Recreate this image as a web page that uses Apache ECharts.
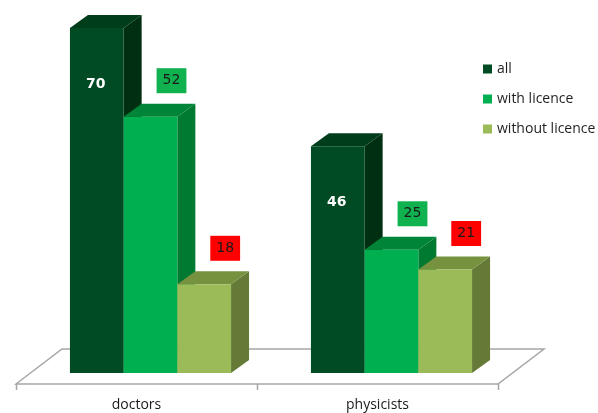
<!DOCTYPE html>
<html>
<head>
<meta charset="utf-8">
<script src="https://cdn.jsdelivr.net/npm/echarts@6/dist/echarts.min.js"></script>
<style>
  html, body { margin: 0; padding: 0; background: #ffffff; }
  #chart { width: 598px; height: 413px; }
</style>
</head>
<body>
<div id="chart"></div>
<script>
// Licensed staff counts per profession
const categories = ['doctors', 'physicists'];
const seriesNames = ['all', 'with licence', 'without licence'];
const allValues = [70, 46];
const withLicence = [52, 25];
const withoutLicence = [18, 21];

// Face colours of each prism: front, side, top; plus the label style
const palette = [
  { front: '#004b23', side: '#003011', top: '#003d1a', label: 'inside' },
  { front: '#00b050', side: '#007a31', top: '#008437', label: 'box', box: '#0fb24f' },
  { front: '#9bbb59', side: '#647a36', top: '#77923e', label: 'box', box: '#ff0000' }
];

const BAR_W = 53.7;      // front face width in px
const GROUP_SHIFT = 14;  // bars sit deeper on the floor than the front edge
const DX = 18, DY = 13;  // prism depth offset
const FLOOR_FRONT = 11, FLOOR_DX = 46, FLOOR_DY = 35, TICK_LEN = 6;

function prismRenderer(si) {
  const pal = palette[si];
  return function (params, api) {
    const cat = api.value(0);
    const val = api.value(1);
    const base = api.coord([cat, 0]);
    const top = api.coord([cat, val]);
    const groupLeft = base[0] + GROUP_SHIFT - BAR_W * 1.5;
    const x0 = groupLeft + si * BAR_W;
    const x1 = x0 + BAR_W;
    const yb = base[1], yt = top[1];
    const children = [
      { type: 'polygon', shape: { points: [[x1, yb], [x1 + DX, yb - DY], [x1 + DX, yt - DY], [x1, yt]] },
        style: { fill: pal.side } },
      { type: 'polygon', shape: { points: [[x0, yt], [x0 + DX, yt - DY], [x1 + DX, yt - DY], [x1, yt]] },
        style: { fill: pal.top } },
      { type: 'rect', shape: { x: x0, y: yt, width: BAR_W, height: yb - yt },
        style: { fill: pal.front } }
    ];
    if (pal.label === 'inside') {
      children.push({ type: 'text', style: {
        text: String(val), x: (x0 + x1) / 2 - 1, y: yt + 56, align: 'center', verticalAlign: 'middle',
        fill: '#ffffff', font: 'bold 14px "DejaVu Sans", sans-serif' } });
    } else {
      children.push({ type: 'text', style: {
        text: String(val), x: (x0 + x1) / 2 + 21, y: yt - 36, align: 'center', verticalAlign: 'middle',
        fill: '#1a1a1a', font: '14px "DejaVu Sans", sans-serif',
        backgroundColor: pal.box, padding: [6, 6, 5, 6] } });
    }
    return { type: 'group', children: children };
  };
}

// Floor plate with the category dividers along its front edge
function floorRenderer(params, api) {
  const cs = params.coordSys;
  const y0 = api.coord([0, 0])[1] + FLOOR_FRONT;
  const xl = cs.x, xr = cs.x + cs.width;
  const band = api.size([1, 0])[0];
  const line = { stroke: '#a6a6a6', lineWidth: 1.5 };
  const children = [{
    type: 'polygon',
    shape: { points: [[xl, y0], [xl + FLOOR_DX, y0 - FLOOR_DY], [xr + FLOOR_DX, y0 - FLOOR_DY], [xr, y0]] },
    style: { fill: '#ffffff', stroke: '#a6a6a6', lineWidth: 1.5 }
  }];
  for (let i = 0; i <= categories.length; i++) {
    const tx = Math.round(xl + i * band) + 0.5;
    children.push({ type: 'line', shape: { x1: tx, y1: y0, x2: tx, y2: y0 + TICK_LEN }, style: line });
  }
  return { type: 'group', children: children };
}

const seriesData = [allValues, withLicence, withoutLicence];

const chart = echarts.init(document.getElementById('chart'), null, { renderer: 'canvas' });
chart.setOption({
  animation: false,
  backgroundColor: '#ffffff',
  grid: { left: 16, right: 100, top: 28, bottom: 40 },
  legend: {
    orient: 'vertical', left: 478, top: 57,
    itemWidth: 9, itemHeight: 9, itemGap: 16, icon: 'rect',
    data: seriesNames,
    textStyle: { color: '#1f1f1f', fontSize: 14, fontFamily: '"Open Sans", sans-serif' }
  },
  xAxis: {
    type: 'category', data: categories, offset: FLOOR_FRONT,
    axisLine: { show: false },
    axisTick: { show: false },
    axisLabel: { margin: 14, color: '#1a1a1a', fontSize: 14, fontFamily: '"Open Sans", sans-serif' }
  },
  yAxis: { type: 'value', min: 0, max: 70, show: false, splitLine: { show: false } },
  series: [
    { type: 'custom', name: '_floor', silent: true, z: 1, data: [[0, 0]], renderItem: floorRenderer }
  ].concat(seriesNames.map((name, si) => ({
    type: 'custom', name: name, z: 2 + si,
    itemStyle: { color: palette[si].front },
    data: seriesData[si].map((v, ci) => [ci, v]),
    renderItem: prismRenderer(si)
  })))
});
</script>
</body>
</html>
